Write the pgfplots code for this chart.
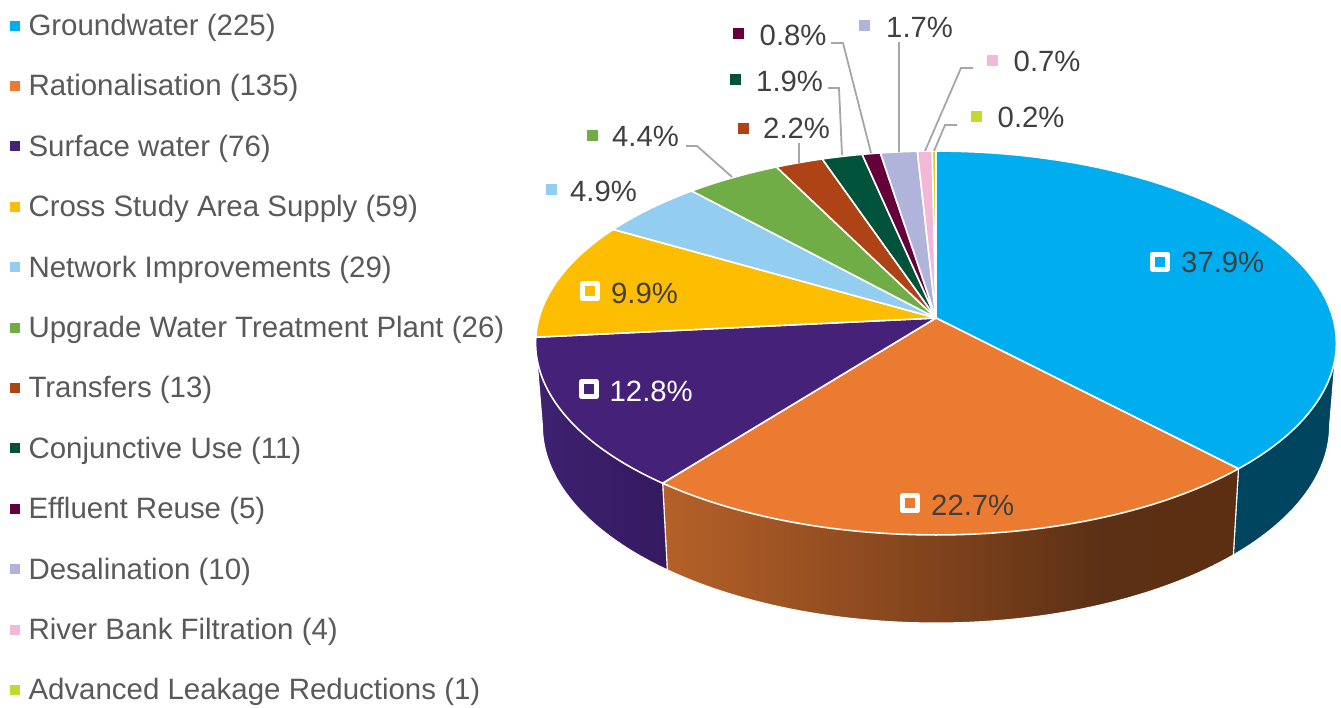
\documentclass[border=0pt]{standalone}
\usepackage{pgfplots}
\pgfplotsset{compat=1.18}
\usepackage{fontspec}
\setmainfont{Liberation Sans}
\definecolor{cA}{HTML}{00ADEE}
\definecolor{cB}{HTML}{EA7B30}
\definecolor{cC}{HTML}{452278}
\definecolor{cD}{HTML}{FDBD00}
\definecolor{cE}{HTML}{93CEF0}
\definecolor{cF}{HTML}{70AD47}
\definecolor{cG}{HTML}{AE4415}
\definecolor{cH}{HTML}{00523A}
\definecolor{cI}{HTML}{65003A}
\definecolor{cJ}{HTML}{B1B4DA}
\definecolor{cK}{HTML}{F3B8D8}
\definecolor{cL}{HTML}{C4D82D}
\definecolor{txtL}{HTML}{595959}
\definecolor{txtD}{HTML}{404040}
\definecolor{lead}{HTML}{A6A6A6}
\pgfdeclarehorizontalshading{orangewall}{100bp}{
  rgb(0bp)=(0.71,0.38,0.16);
  rgb(25bp)=(0.71,0.38,0.16);
  rgb(49bp)=(0.50,0.26,0.11);
  rgb(63bp)=(0.36,0.19,0.08);
  rgb(75bp)=(0.36,0.18,0.07);
  rgb(100bp)=(0.36,0.18,0.07)}
\newcommand{\fs}{\fontsize{29.3}{32}\selectfont}
\newcommand{\fl}{\fontsize{29.45}{32}\selectfont}
% a: first count, b: last count (cumulative, out of 594)
\newcommand{\TopSlice}[3]{%
  \addplot[forget plot,fill=#3,draw=white,line width=1.6pt,line join=round,domain=-1:60,samples=62]
   ({x<0 ? 936 : PX((#1+(#2-#1)*x/60)*360/594,1)},
    {x<0 ? 318 : PY((#1+(#2-#1)*x/60)*360/594,1,318)}) -- cycle;}
% wall between the rim of the top face and of the bottom face
\newcommand{\Wall}[3]{%
  \addplot[forget plot,#3,draw=white,line width=1.1pt,line join=round,domain=-1:61,samples=63]
   ({x<0 ? PX(#1,1) : (x>60 ? PX(#2,1) : PX(#1+(#2-#1)*x/60,0.983))},
    {x<0 ? PY(#1,1,318) : (x>60 ? PY(#2,1,318) : PY(#1+(#2-#1)*x/60,1.028,400))}) -- cycle;}
\newcommand{\Lab}[4]{\node[anchor=base west,inner sep=0pt,text=#4,font=\fs] at (axis cs:#1,#2) {#3};}
\newcommand{\Lead}[1]{\addplot[forget plot,lead,line width=1.8pt] coordinates {#1};}
\newcommand{\Sq}[3]{\addplot[forget plot,only marks,mark=square*,mark size=5pt,mark options={fill=#3,draw=#3,line width=0pt}] coordinates {(#1,#2)};}
\newcommand{\SqW}[3]{\addplot[forget plot,only marks,mark=square*,mark size=7.5pt,mark options={fill=#3,draw=white,line width=5pt,line join=round}] coordinates {(#1,#2)};}
\begin{document}
\begin{tikzpicture}
\begin{axis}[
  scale only axis,width=1341pt,height=707pt,
  xmin=0,xmax=1341,ymin=0,ymax=707,y dir=reverse,
  hide axis,clip=false,
  declare function={
    PX(\t,\s)=936+\s*397*sin(\t)/(1+0.1302*cos(\t));
    PY(\t,\s,\c)=\c-\s*188.7*cos(\t)/(1+0.1302*cos(\t));
  },
  legend image code/.code={\path[draw=none,#1] (0pt,-2.5pt) rectangle (10pt,7.5pt); \path[draw=none,fill=none] (0pt,0pt) -- (18.5pt,0pt);},
  legend cell align=left,
  legend style={at={(axis cs:10,13.5)},anchor=north west,draw=none,fill=none,inner sep=0pt,outer sep=0pt,
    row sep=31.4pt,
    nodes={inner sep=0pt,font=\fl,text=txtL,text height=22pt,text depth=7pt}},
]
\path (axis cs:0,0) rectangle (axis cs:1341,707);
\addlegendimage{fill=cA}\addlegendentry{Groundwater (225)}
\addlegendimage{fill=cB}\addlegendentry{Rationalisation (135)}
\addlegendimage{fill=cC}\addlegendentry{Surface water (76)}
\addlegendimage{fill=cD}\addlegendentry{Cross Study Area Supply (59)}
\addlegendimage{fill=cE}\addlegendentry{Network Improvements (29)}
\addlegendimage{fill=cF}\addlegendentry{Upgrade Water Treatment Plant (26)}
\addlegendimage{fill=cG}\addlegendentry{Transfers (13)}
\addlegendimage{fill=cH}\addlegendentry{Conjunctive Use (11)}
\addlegendimage{fill=cI}\addlegendentry{Effluent Reuse (5)}
\addlegendimage{fill=cJ}\addlegendentry{Desalination (10)}
\addlegendimage{fill=cK}\addlegendentry{River Bank Filtration (4)}
\addlegendimage{fill=cL}\addlegendentry{Advanced Leakage Reductions (1)}

\Wall{97.5}{136.36}{fill={rgb,255:red,0;green,69;blue,95}}
\Wall{136.36}{218.18}{shade,shading=orangewall}
\Wall{218.18}{262.5}{shade,left color={rgb,255:red,62;green,33;blue,112},right color={rgb,255:red,52;green,26;blue,96}}

\TopSlice{0}{225}{cA}
\TopSlice{225}{360}{cB}
\TopSlice{360}{436}{cC}
\TopSlice{436}{495}{cD}
\TopSlice{495}{524}{cE}
\TopSlice{524}{550}{cF}
\TopSlice{550}{563}{cG}
\TopSlice{563}{574}{cH}
\TopSlice{574}{579}{cI}
\TopSlice{579}{589}{cJ}
\TopSlice{589}{593}{cK}
\TopSlice{593}{594}{cL}

\Lead{(686,146)(697,146)(732,177)}
\Lead{(799,143)(799,163)}
\Lead{(828,88)(839,88)(842,155)}
\Lead{(831,43)(843,43)(871,153)}
\Lead{(899,42)(899,152)}
\Lead{(973,68)(961,68)(925,151)}
\Lead{(957,125)(945,125)(934,151)}

\SqW{1160}{261.5}{cA}
\SqW{910}{503}{cB}
\SqW{589}{389}{cC}
\SqW{590}{291}{cD}
\Sq{551}{189}{cE}
\Sq{592}{135}{cF}
\Sq{743}{128}{cG}
\Sq{735}{79}{cH}
\Sq{738}{33}{cI}
\Sq{864}{25}{cJ}
\Sq{992}{60}{cK}
\Sq{976}{116}{cL}

\Lab{1181}{272.5}{37.9\%}{txtD}
\Lab{931}{515}{22.7\%}{txtD}
\Lab{609.5}{401}{12.8\%}{white}
\Lab{611}{303}{9.9\%}{txtD}
\Lab{570}{201}{4.9\%}{txtD}
\Lab{612}{146}{4.4\%}{txtD}
\Lab{763}{138.5}{2.2\%}{txtD}
\Lab{756}{91}{1.9\%}{txtD}
\Lab{759.5}{45}{0.8\%}{txtD}
\Lab{886}{37}{1.7\%}{txtD}
\Lab{1013.5}{71}{0.7\%}{txtD}
\Lab{997.5}{127}{0.2\%}{txtD}
\end{axis}
\end{tikzpicture}
\end{document}
